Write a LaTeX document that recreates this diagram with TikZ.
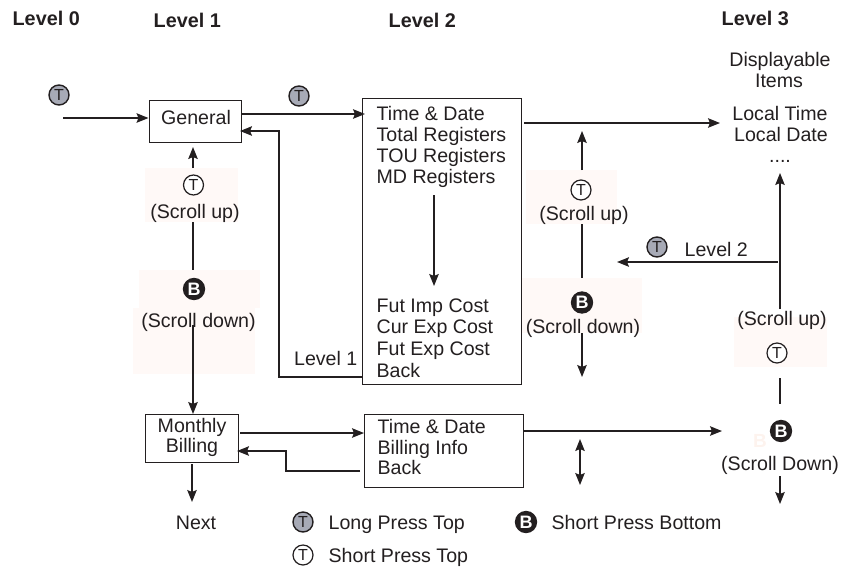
\documentclass[tikz,border=0pt]{standalone}
\usepackage{fontspec}
\setmainfont{Liberation Sans}
\usetikzlibrary{arrows.meta}
\definecolor{ink}{HTML}{231F20}
\definecolor{keygrey}{HTML}{A7AAB6}
\definecolor{blush}{HTML}{FFF9F7}
\definecolor{ghost}{HTML}{FDF3EE}
\begin{document}
\begin{tikzpicture}[x=1pt, y=-1pt, ink, line width=1.3pt,
  txt/.style={inner sep=0pt, anchor=base, text=ink, font=\fontsize{19.6}{22}\selectfont},
  txtw/.style={txt, anchor=base west},
  head/.style={inner sep=0pt, anchor=base west, text=ink, font=\fontsize{19.8}{22}\selectfont\bfseries},
  box/.style={draw=ink, inner sep=0pt, anchor=north west},
  flow/.style={draw=ink, -{Stealth[length=12pt, width=9.5pt, inset=2pt]}},
  wire/.style={draw=ink},
  patch/.style={fill=blush, draw=none},
  longkey/.style={circle, draw=ink, fill=keygrey, line width=1.4pt, minimum size=20pt, inner sep=0pt, font=\fontsize{16}{16}\selectfont},
  shortkey/.style={circle, draw=ink, fill=white, line width=1.2pt, minimum size=20pt, inner sep=0pt, font=\fontsize{16}{16}\selectfont},
  botkey/.style={circle, draw=ink, fill=ink, minimum size=21pt, inner sep=0pt, text=white, font=\fontsize{18}{18}\selectfont\bfseries}]
\useasboundingbox (0, 0) rectangle (856, 568);

\fill [patch] (145, 168) rectangle (238, 222);
\fill [patch] (139, 270) rectangle (260, 308);
\fill [patch] (133, 308) rectangle (255, 374);
\fill [patch] (526, 170) rectangle (617, 224);
\fill [patch] (522, 278) rectangle (642, 333);
\fill [patch] (734, 317) rectangle (827, 367);

\node [head] (level0) at (12, 25) {Level 0};
\node [head] (level1) at (153, 27) {Level 1};
\node [head] (level2) at (388, 27) {Level 2};
\node [head] (level3) at (721, 25) {Level 3};

%%%%%%%%%%%%%%%%%%%%%%%%%%%%%%%%%%%%%%%%

\node [box, minimum width=92pt, minimum height=42pt] (general) at (149, 100) {};
\node [box, minimum width=93pt, minimum height=48pt] (monthly) at (145, 414) {};
\node [box, minimum width=159pt, minimum height=286pt] (timebox) at (362, 98) {};
\node [box, minimum width=159pt, minimum height=73pt] (billbox) at (364, 414) {};

\node [txt] (generaltext) at (196, 124) {General};
\node [txt] (monthlytext) at (192, 432) {Monthly};
\node [txt] (billingtext) at (192, 452) {Billing};

\node [txtw] (time) at (376, 120) {Time \& Date};
\node [txtw] (total) at (376, 141) {Total Registers};
\node [txtw] (tou) at (376, 162) {TOU Registers};
\node [txtw] (md) at (376, 183) {MD Registers};
\node [txtw] (futimp) at (376, 312) {Fut Imp Cost};
\node [txtw] (curexp) at (376, 333) {Cur Exp Cost};
\node [txtw] (futexp) at (376, 355) {Fut Exp Cost};
\node [txtw] (back) at (376, 377) {Back};

\node [txtw] (billtime) at (377, 433) {Time \& Date};
\node [txtw] (billinfo) at (377, 454) {Billing Info};
\node [txtw] (billback) at (377, 474) {Back};

\node [txt] (display) at (780, 66) {Displayable};
\node [txt] (items) at (779, 87) {Items};
\node [txt] (localtime) at (780, 120) {Local Time};
\node [txt] (localdate) at (781, 141) {Local Date};
\node [txt] (dots) at (780, 162) {....};

%%%%%%%%%%%%%%%%%%%%%%%%%%%%%%%%%%%%%%%%

\node [longkey] (entrykey) at (59, 95) {T};
\node [longkey] (nextkey) at (299, 96) {T};
\node [longkey] (backkey) at (657, 247) {T};
\node [txtw] (leveltwo) at (684, 256) {Level 2};
\node [txt, anchor=base east] (levelone) at (358, 365) {Level 1};

\node [shortkey] (upkeyA) at (193.5, 185) {T};
\node [txt] (uptextA) at (195, 218) {(Scroll up)};
\node [botkey] (downkeyA) at (194, 289) {B};
\node [txt] (downtextA) at (198.5, 327) {(Scroll down)};

\node [shortkey] (upkeyB) at (581, 190) {T};
\node [txt] (uptextB) at (584, 220) {(Scroll up)};
\node [botkey] (downkeyB) at (582, 302.5) {B};
\node [txt] (downtextB) at (583, 333) {(Scroll down)};

\node [txt] (uptextC) at (782, 325) {(Scroll up)};
\node [shortkey] (upkeyC) at (777, 353) {T};
\node [botkey] (downkeyC) at (781, 431) {B};
\node [txt, anchor=center, text=ghost, font=\fontsize{19}{19}\selectfont\bfseries] (ghostb) at (760, 441) {B};
\node [txt] (downtextC) at (780, 470) {(Scroll Down)};

\node [txt] (next) at (196, 529) {Next};
\node [longkey] (legendlong) at (303, 522) {T};
\node [txtw] (legendlongtext) at (328, 529) {Long Press Top};
\node [shortkey] (legendshort) at (303, 555) {T};
\node [txtw] (legendshorttext) at (328, 562) {Short Press Top};
\node [botkey] (legendbot) at (526, 522) {B};
\node [txtw] (legendbottext) at (551, 529) {Short Press Bottom};

%%%%%%%%%%%%%%%%%%%%%%%%%%%%%%%%%%%%%%%%

\path (63, 118) coordinate (entry)
      (148.5, 118) coordinate (entrytip)
      (241, 114) coordinate (genout)
      (365, 114) coordinate (timein)
      (362, 377) coordinate (timeback)
      (279, 131) coordinate (backcorner)
      (240, 131) coordinate (genin)
      (524, 123) coordinate (timeout)
      (720, 123) coordinate (itemstip)
      (434, 195) coordinate (listtop)
      (434, 286) coordinate (listtip)
      (193, 168) coordinate (upfootA)
      (193, 147) coordinate (uptipA)
      (193, 222) coordinate (linktopA)
      (193, 270) coordinate (linkbotA)
      (193, 325) coordinate (downfootA)
      (193, 414) coordinate (downtipA)
      (582, 170) coordinate (upfootB)
      (582, 131) coordinate (uptipB)
      (582, 224) coordinate (linktopB)
      (582, 278) coordinate (linkbotB)
      (582, 333) coordinate (downfootB)
      (582, 377) coordinate (downtipB)
      (780, 309) coordinate (upfootC)
      (780, 173) coordinate (uptipC)
      (778, 262) coordinate (levelbranch)
      (617, 262) coordinate (leveltip)
      (780, 378) coordinate (linktopC)
      (780, 404) coordinate (linkbotC)
      (780, 476) coordinate (downfootC)
      (780, 504) coordinate (downtipC)
      (240, 433) coordinate (billout)
      (364, 433) coordinate (billin)
      (360, 471) coordinate (billreturn)
      (286, 451) coordinate (billcorner)
      (237, 451) coordinate (billtip)
      (524, 431) coordinate (billright)
      (722, 431) coordinate (billrighttip)
      (580, 439) coordinate (dbltop)
      (580, 485) coordinate (dblbot)
      (192, 464) coordinate (monthout)
      (192, 502) coordinate (nexttip);

\draw [flow] (entry) -- (entrytip);
\draw [flow] (genout) -- (timein);
\draw [flow] (timeback) -| (backcorner) -- (genin);
\draw [flow] (timeout) -- (itemstip);
\draw [flow] (listtop) -- (listtip);

\draw [flow] (upfootA) -- (uptipA);
\draw [wire] (linktopA) -- (linkbotA);
\draw [flow] (downfootA) -- (downtipA);

\draw [flow] (upfootB) -- (uptipB);
\draw [wire] (linktopB) -- (linkbotB);
\draw [flow] (downfootB) -- (downtipB);

\draw [flow] (upfootC) -- (uptipC);
\draw [flow] (levelbranch) -- (leveltip);
\draw [wire] (linktopC) -- (linkbotC);
\draw [flow] (downfootC) -- (downtipC);

\draw [flow] (billout) -- (billin);
\draw [flow] (billreturn) -| (billcorner) -- (billtip);
\draw [flow] (billright) -- (billrighttip);
\draw [draw=ink, {Stealth[length=12pt, width=9.5pt, inset=2pt]}-{Stealth[length=12pt, width=9.5pt, inset=2pt]}] (dbltop) -- (dblbot);
\draw [flow] (monthout) -- (nexttip);

\end{tikzpicture}
\end{document}
